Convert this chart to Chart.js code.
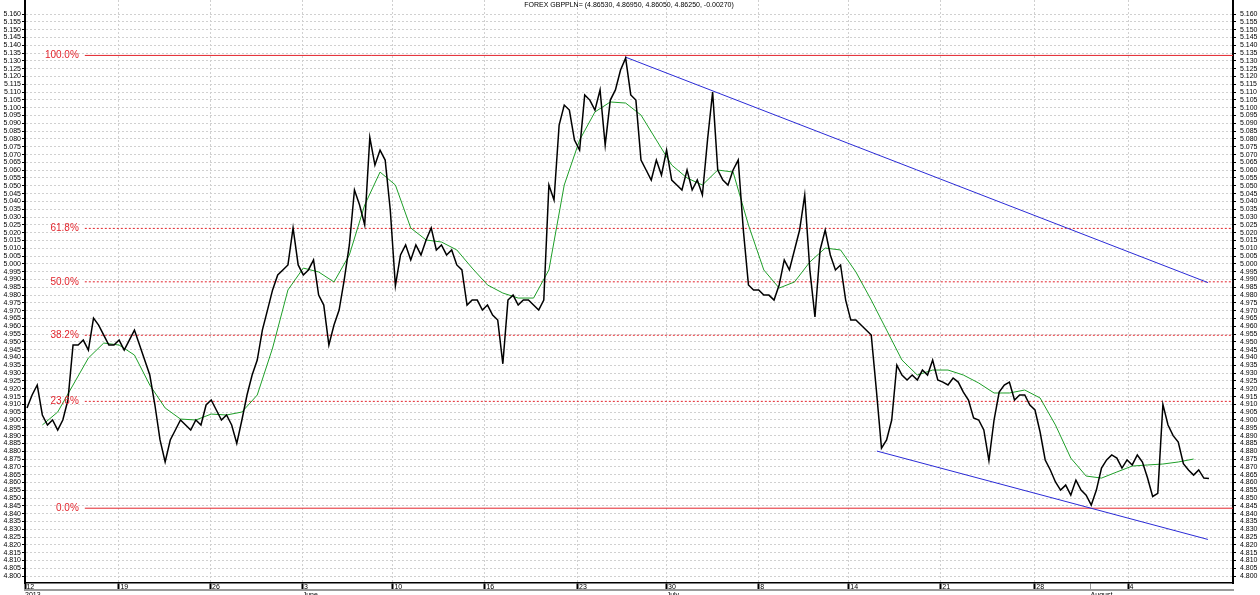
<!DOCTYPE html>
<html>
<head>
<meta charset="utf-8">
<title>FOREX GBPPLN=</title>
<script src="https://cdn.jsdelivr.net/npm/chart.js@4.4.1/dist/chart.umd.min.js"></script>
<style>
  html, body { margin: 0; padding: 0; background: #fff; }
  canvas { display: block; }
</style>
</head>
<body>
<canvas id="gbpplnChart" width="1260" height="595"></canvas>
<script>
// GBP/PLN closes, sampled at a fixed bar step (about 18 samples per trading week)
const closes = [
  4.9077, 4.9160, 4.9224, 4.9032, 4.8968, 4.9000, 4.8936, 4.9000, 4.9128, 4.9480,
  4.9480, 4.9512, 4.9448, 4.9653, 4.9608, 4.9544, 4.9480, 4.9480, 4.9512, 4.9448,
  4.9512, 4.9576, 4.9480, 4.9384, 4.9288, 4.9096, 4.8872, 4.8731, 4.8872, 4.8936,
  4.9000, 4.8968, 4.8936, 4.9000, 4.8968, 4.9096, 4.9128, 4.9064, 4.9000, 4.9032,
  4.8968, 4.8850, 4.9000, 4.9160, 4.9288, 4.9384, 4.9576, 4.9704, 4.9833, 4.9929,
  4.9961, 4.9993, 5.0230, 4.9993, 4.9929, 4.9961, 5.0025, 4.9800, 4.9736, 4.9480,
  4.9608, 4.9704, 4.9897, 5.0121, 5.0473, 5.0377, 5.0249, 5.0810, 5.0633, 5.0729,
  5.0665, 5.0345, 4.9860, 5.0057, 5.0121, 5.0025, 5.0121, 5.0057, 5.0153, 5.0230,
  5.0089, 5.0121, 5.0057, 5.0089, 4.9993, 4.9961, 4.9736, 4.9768, 4.9768, 4.9704,
  4.9736, 4.9672, 4.9640, 4.9360, 4.9768, 4.9800, 4.9736, 4.9768, 4.9768, 4.9736,
  4.9704, 4.9768, 5.0505, 5.0409, 5.0889, 5.1017, 5.0985, 5.0793, 5.0729, 5.1082,
  5.1049, 5.0985, 5.1114, 5.0760, 5.1049, 5.1114, 5.1242, 5.1318, 5.1082, 5.1049,
  5.0665, 5.0601, 5.0537, 5.0665, 5.0569, 5.0729, 5.0537, 5.0505, 5.0473, 5.0601,
  5.0473, 5.0537, 5.0441, 5.0793, 5.1101, 5.0601, 5.0537, 5.0505, 5.0601, 5.0665,
  5.0217, 4.9865, 4.9833, 4.9833, 4.9800, 4.9800, 4.9768, 4.9865, 5.0025, 4.9961,
  5.0089, 5.0217, 5.0441, 4.9960, 4.9660, 5.0089, 5.0217, 5.0057, 4.9961, 4.9993,
  4.9768, 4.9640, 4.9640, 4.9608, 4.9576, 4.9544, 4.9192, 4.8820, 4.8872, 4.9000,
  4.9352, 4.9288, 4.9256, 4.9288, 4.9256, 4.9320, 4.9288, 4.9384, 4.9256, 4.9243,
  4.9224, 4.9269, 4.9243, 4.9179, 4.9128, 4.9013, 4.9000, 4.8936, 4.8740, 4.9000,
  4.9179, 4.9224, 4.9243, 4.9128, 4.9160, 4.9160, 4.9096, 4.9064, 4.8923, 4.8744,
  4.8680, 4.8603, 4.8551, 4.8583, 4.8519, 4.8615, 4.8551, 4.8519, 4.8455, 4.8551,
  4.8692, 4.8744, 4.8776, 4.8756, 4.8692, 4.8744, 4.8712, 4.8776, 4.8731, 4.8628,
  4.8510, 4.8530, 4.9100, 4.8968, 4.8900, 4.8859, 4.8720, 4.8680, 4.8647, 4.8680,
  4.8628, 4.8625
];

// moving average (green), read every 3rd sample starting at sample 3
const maStart = 3;
const maStep = 3;
const movingAvg = [
  4.8968, 4.9051, 4.9224, 4.9397, 4.9493, 4.9480, 4.9416, 4.9224, 4.9077, 4.9006,
  4.9000, 4.9038, 4.9032, 4.9051, 4.9160, 4.9461, 4.9833, 4.9973, 4.9948, 4.9884,
  5.0057, 5.0377, 5.0588, 5.0505, 5.0230, 5.0153, 5.0140, 5.0089, 4.9973, 4.9865,
  4.9813, 4.9781, 4.9781, 4.9961, 5.0505, 5.0793, 5.0973, 5.1037, 5.1030, 5.0953,
  5.0793, 5.0633, 5.0550, 5.0505, 5.0601, 5.0588, 5.0249, 4.9961, 4.9845, 4.9884,
  5.0012, 5.0101, 5.0089, 4.9948, 4.9768, 4.9576, 4.9384, 4.9288, 4.9320, 4.9320,
  4.9288, 4.9237, 4.9173, 4.9173, 4.9192, 4.9141, 4.8968, 4.8756, 4.8641, 4.8628,
  4.8667, 4.8705, 4.8712, 4.8718, 4.8731, 4.8750
];

// x axis: first bar of each week, and the month starts (sample index)
const weekTicks = [-0.39, 17.98, 35.9, 53.88, 71.53, 89.51, 107.62, 125.01, 143.05, 160.64, 178.62, 196.99, 215.22];
const weekLabels = ['12', '19', '26', '3', '10', '16', '23', '30', '8', '14', '21', '28', '4'];
const monthTicks = [-0.39, 53.88, 125.01, 207.87];
const monthLabels = ['2013', 'June', 'July', 'August'];
const xMin = -0.39;
const xMax = 235.7;

// y axis
const yMin = 4.7956;
const yMax = 5.1690;
const yTickFirst = 4.800;
const yTickLast = 5.160;
const yTickStep = 0.005;

// fibonacci retracement between the May low and the June high
const fibHigh = 5.1335;
const fibLow = 4.8435;
const fibLevels = [100, 61.8, 50, 38.2, 23.6, 0];
const fibStart = 11.3;

// channel lines [sample, price]
const upperTrend = [[116.9, 5.1325], [230.8, 4.9880]];
const lowerTrend = [[166.1, 4.8801], [230.8, 4.8235]];

const titleText = 'FOREX GBPPLN= (4.86530, 4.86950, 4.86050, 4.86250, -0.00270)';

const fibRed = '#e2242c';
const gridGrey = '#d0d0d0';
const smallFont = { family: "'Liberation Sans', Arial, sans-serif", size: 7 };

function fibValue(level) {
    return fibLow + (fibHigh - fibLow) * level / 100;
}

function priceTicks(scale) {
    const t = [];
    const n = Math.round((yTickLast - yTickFirst) / yTickStep);
    for (let k = 0; k <= n; k++) t.push({ value: yTickFirst + k * yTickStep });
    scale.ticks = t;
}

// build datasets
const datasets = [];
datasets.push({
    label: 'GBPPLN',
    data: closes.map((v, i) => ({ x: i, y: v })),
    borderColor: '#000',
    borderWidth: 1.5
});
datasets.push({
    label: 'MA',
    data: movingAvg.map((v, k) => ({ x: maStart + k * maStep, y: v })),
    borderColor: '#1e9e28',
    borderWidth: 1
});
[upperTrend, lowerTrend].forEach(line => {
    datasets.push({
        label: 'trend',
        data: line.map(p => ({ x: p[0], y: p[1] })),
        borderColor: '#2a2ad6',
        borderWidth: 1
    });
});
fibLevels.forEach(level => {
    const solid = level === 0 || level === 100;
    datasets.push({
        label: 'fib ' + level,
        data: [{ x: fibStart, y: fibValue(level) }, { x: xMax, y: fibValue(level) }],
        borderColor: fibRed,
        borderWidth: 1,
        borderDash: solid ? [] : [2, 2]
    });
});

// title and fibonacci labels drawn on the plot
const overlayText = {
    id: 'overlayText',
    afterDatasetsDraw(chart) {
        const ctx = chart.ctx;
        const xs = chart.scales.x;
        const ys = chart.scales.y;
        ctx.save();
        ctx.fillStyle = '#000';
        ctx.font = "7px 'Liberation Sans', Arial, sans-serif";
        ctx.textAlign = 'center';
        ctx.textBaseline = 'middle';
        ctx.fillText(titleText, (chart.chartArea.left + chart.chartArea.right) / 2, 5);

        ctx.fillStyle = fibRed;
        ctx.font = "10px 'Liberation Sans', Arial, sans-serif";
        ctx.textAlign = 'right';
        fibLevels.forEach(level => {
            ctx.fillText(level.toFixed(1) + '%', xs.getPixelForValue(fibStart) - 6, ys.getPixelForValue(fibValue(level)));
        });
        ctx.restore();
    }
};

const ctx = document.getElementById('gbpplnChart').getContext('2d');
const gbpplnChart = new Chart(ctx, {
    type: 'line',
    data: { datasets: datasets },
    options: {
        responsive: false,
        animation: false,
        devicePixelRatio: 1,
        layout: { padding: 0 },
        elements: {
            point: { radius: 0 },
            line: { tension: 0 }
        },
        plugins: {
            legend: { display: false },
            tooltip: { enabled: false },
            title: { display: false }
        },
        scales: {
            x: {
                type: 'linear',
                position: 'bottom',
                min: xMin,
                max: xMax,
                afterBuildTicks: scale => {
                    scale.ticks = weekTicks.concat([monthTicks[3]]).map(v => ({ value: v }));
                },
                afterFit: scale => {
                    scale.height = 7;
                    scale.paddingLeft = 0;
                    scale.paddingRight = 0;
                },
                ticks: {
                    autoSkip: false,
                    maxRotation: 0,
                    align: 'start',
                    padding: -7,
                    font: smallFont,
                    color: '#000',
                    callback: (v, i) => i < weekLabels.length ? '\u2009' + weekLabels[i] : ''
                },
                grid: {
                    color: c => c.index < weekTicks.length && c.index > 0 ? gridGrey : 'rgba(0,0,0,0)',
                    lineWidth: 1,
                    tickLength: 7,
                    tickColor: c => c.index < weekTicks.length ? '#000' : '#999',
                    tickWidth: c => c.index < weekTicks.length ? 2 : 1,
                    tickBorderDash: []
                },
                border: { display: true, color: '#000', width: 1.5, dash: [2, 2] }
            },
            x2: {
                type: 'linear',
                position: 'bottom',
                min: xMin,
                max: xMax,
                afterBuildTicks: scale => {
                    scale.ticks = monthTicks.map(v => ({ value: v }));
                },
                afterFit: scale => {
                    scale.height = 5;
                    scale.paddingLeft = 0;
                    scale.paddingRight = 0;
                },
                ticks: {
                    autoSkip: false,
                    maxRotation: 0,
                    align: 'start',
                    padding: 1,
                    font: smallFont,
                    color: '#000',
                    callback: (v, i) => monthLabels[i]
                },
                grid: { drawOnChartArea: false, drawTicks: false },
                border: { display: true, color: '#9a9a9a', width: 2 }
            },
            y: {
                type: 'linear',
                position: 'left',
                min: yMin,
                max: yMax,
                afterBuildTicks: priceTicks,
                afterFit: scale => {
                    scale.width = 25;
                    scale.paddingTop = 0;
                    scale.paddingBottom = 0;
                },
                ticks: {
                    autoSkip: false,
                    padding: 1,
                    font: smallFont,
                    color: '#000',
                    callback: v => v.toFixed(3)
                },
                grid: {
                    color: gridGrey,
                    lineWidth: 1,
                    tickLength: 3,
                    tickColor: '#000',
                    tickBorderDash: []
                },
                border: { display: true, color: '#000', width: 2, dash: [2, 2] }
            },
            y2: {
                type: 'linear',
                position: 'right',
                min: yMin,
                max: yMax,
                afterBuildTicks: priceTicks,
                afterFit: scale => {
                    scale.width = 27;
                    scale.paddingTop = 0;
                    scale.paddingBottom = 0;
                },
                ticks: {
                    autoSkip: false,
                    padding: 4,
                    font: smallFont,
                    color: '#000',
                    callback: v => v.toFixed(3)
                },
                grid: {
                    drawOnChartArea: false,
                    tickLength: 3,
                    tickColor: '#000'
                },
                border: { display: true, color: '#000', width: 2 }
            }
        }
    },
    plugins: [overlayText]
});
</script>
</body>
</html>
